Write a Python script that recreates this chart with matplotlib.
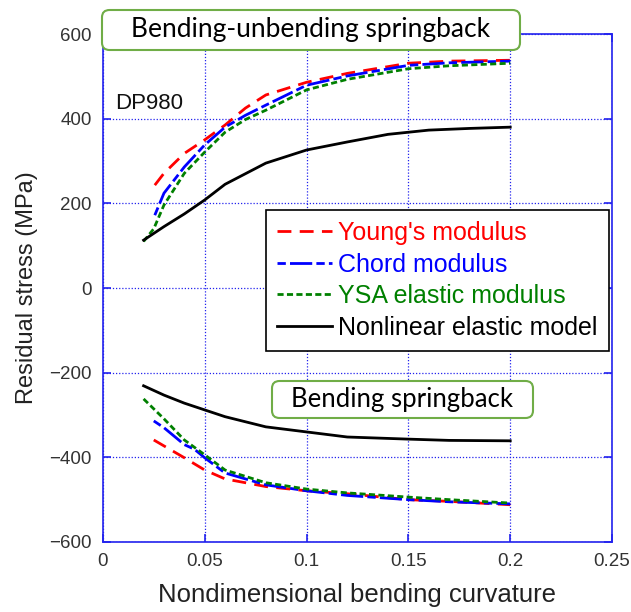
import matplotlib
matplotlib.use("Agg")
import matplotlib.pyplot as plt
from matplotlib.patches import FancyBboxPatch

# ---- data ----
young_top_x = [0.0255, 0.03, 0.04, 0.05, 0.06, 0.07, 0.08, 0.1, 0.12, 0.15, 0.17, 0.2]
young_top = [243, 271, 318, 350, 385, 425, 456, 486, 507, 531, 536, 538]

chord_top_x = [0.0255, 0.03, 0.04, 0.05, 0.06, 0.07, 0.08, 0.1, 0.12, 0.15, 0.17, 0.2]
chord_top = [172, 224, 286, 338, 380, 408, 432, 479, 501, 526, 532, 536]

ysa_top_x = [0.02, 0.025, 0.03, 0.04, 0.05, 0.06, 0.07, 0.08, 0.1, 0.12, 0.15, 0.17, 0.2]
ysa_top = [110, 140, 196, 271, 321, 368, 398, 420, 468, 493, 518, 525, 531]

nonlin_top_x = [0.02, 0.03, 0.04, 0.05, 0.06, 0.08, 0.1, 0.12, 0.14, 0.16, 0.18, 0.2]
nonlin_top = [113, 145, 175, 208, 245, 295, 326, 345, 363, 373, 377, 380]

young_bot_x = [0.025, 0.03, 0.04, 0.05, 0.06, 0.07, 0.08, 0.1, 0.12, 0.15, 0.17, 0.2]
young_bot = [-359, -373, -401, -430, -451, -460, -469, -479, -486, -500, -504, -512]

chord_bot_x = [0.025, 0.03, 0.04, 0.045, 0.05, 0.06, 0.08, 0.1, 0.12, 0.15, 0.17, 0.2]
chord_bot = [-314, -330, -370, -381, -401, -437, -465, -479, -490, -500, -505, -510]

ysa_bot_x = [0.02, 0.03, 0.04, 0.05, 0.06, 0.08, 0.1, 0.12, 0.15, 0.17, 0.2]
ysa_bot = [-262, -309, -359, -394, -430, -460, -475, -484, -494, -500, -508]

nonlin_bot_x = [0.02, 0.03, 0.04, 0.05, 0.06, 0.08, 0.1, 0.12, 0.15, 0.17, 0.2]
nonlin_bot = [-231, -253, -272, -288, -304, -328, -340, -352, -357, -360, -361]

x_ticks = [0, 0.05, 0.1, 0.15, 0.2, 0.25]
x_ticklabels = ["0", "0.05", "0.1", "0.15", "0.2", "0.25"]
y_ticks = [-600, -400, -200, 0, 200, 400, 600]

series_labels = ["Young's modulus", "Chord modulus", "YSA elastic modulus", "Nonlinear elastic model"]
series_colors = ["#ff0000", "#0000ff", "#008000", "#000000"]

# ---- figure ----
plt.rcParams['font.family'] = ['Liberation Sans', 'DejaVu Sans']
fig = plt.figure(figsize=(6.31, 6.12), dpi=100)
ax = fig.add_axes([0.163, 0.1144, 0.807, 0.830])

blue = "#2222ee"
styles = [(0, (5, 3)), (0, (3, 1.5, 8, 1.5)), (0, (2.2, 1.2)), "-"]

pairs = [((young_top_x, young_top), (young_bot_x, young_bot)),
         ((chord_top_x, chord_top), (chord_bot_x, chord_bot)),
         ((ysa_top_x, ysa_top), (ysa_bot_x, ysa_bot)),
         ((nonlin_top_x, nonlin_top), (nonlin_bot_x, nonlin_bot))]

handles = []
for (top, bot), lab, col, ls in zip(pairs, series_labels, series_colors, styles):
    h, = ax.plot(top[0], top[1], color=col, linestyle=ls, lw=2.0, label=lab, zorder=3)
    ax.plot(bot[0], bot[1], color=col, linestyle=ls, lw=2.0, zorder=3)
    handles.append(h)

ax.set_xlim(0, 0.25)
ax.set_ylim(-600, 600)
ax.set_xticks(x_ticks)
ax.set_xticklabels(x_ticklabels)
ax.set_yticks(y_ticks)
ax.grid(True, color=blue, linestyle=(0, (1, 1.5)), lw=0.9)
for s in ax.spines.values():
    s.set_color(blue)
    s.set_linewidth(1.2)
ax.tick_params(direction='in', color=blue, length=6, width=1.2,
               top=True, right=True, labelsize=13.5, labelcolor='#333333', pad=8)

ax.set_xlabel("Nondimensional bending curvature", fontsize=18.5, color='#222222', labelpad=9)
ax.set_ylabel("Residual stress (MPa)", fontsize=17, color='#222222', labelpad=8)

ax.text(0.024, 0.864, "DP980", transform=ax.transAxes, fontsize=16, color='#111111',
        ha='left', va='center')

leg = ax.legend(handles=handles, loc='upper right', bbox_to_anchor=(0.994, 0.654),
                fontsize=18, frameon=True, fancybox=False, edgecolor='black',
                framealpha=1, handlelength=2.2, handletextpad=0.25, labelspacing=0.3,
                borderpad=0.45, borderaxespad=0)
leg.get_frame().set_linewidth(1.2)
for t, c in zip(leg.get_texts(), series_colors):
    t.set_color(c)

# annotation boxes
green = "#70ad47"
def label_box(x0, y0, x1, y1, text, fs):
    # figure pixel coords (from top-left)
    W, H = 631, 612
    box = FancyBboxPatch((x0 / W, 1 - y1 / H), (x1 - x0) / W, (y1 - y0) / H,
                         boxstyle="round,pad=0,rounding_size=0.012",
                         transform=fig.transFigure, facecolor='white',
                         edgecolor=green, lw=1.5, zorder=10, clip_on=False)
    fig.patches.append(box)
    fig.text((x0 + x1) / 2 / W, 1 - (y0 + y1) / 2 / H, text, fontsize=fs,
             family=['Lato', 'DejaVu Sans'], ha='center', va='center', zorder=11,
             color='black')

label_box(102, 10, 520, 50, "Bending-unbending springback", 19)
label_box(272, 381, 533, 418, "Bending springback", 18.5)

fig.savefig("out.png", dpi=100)
